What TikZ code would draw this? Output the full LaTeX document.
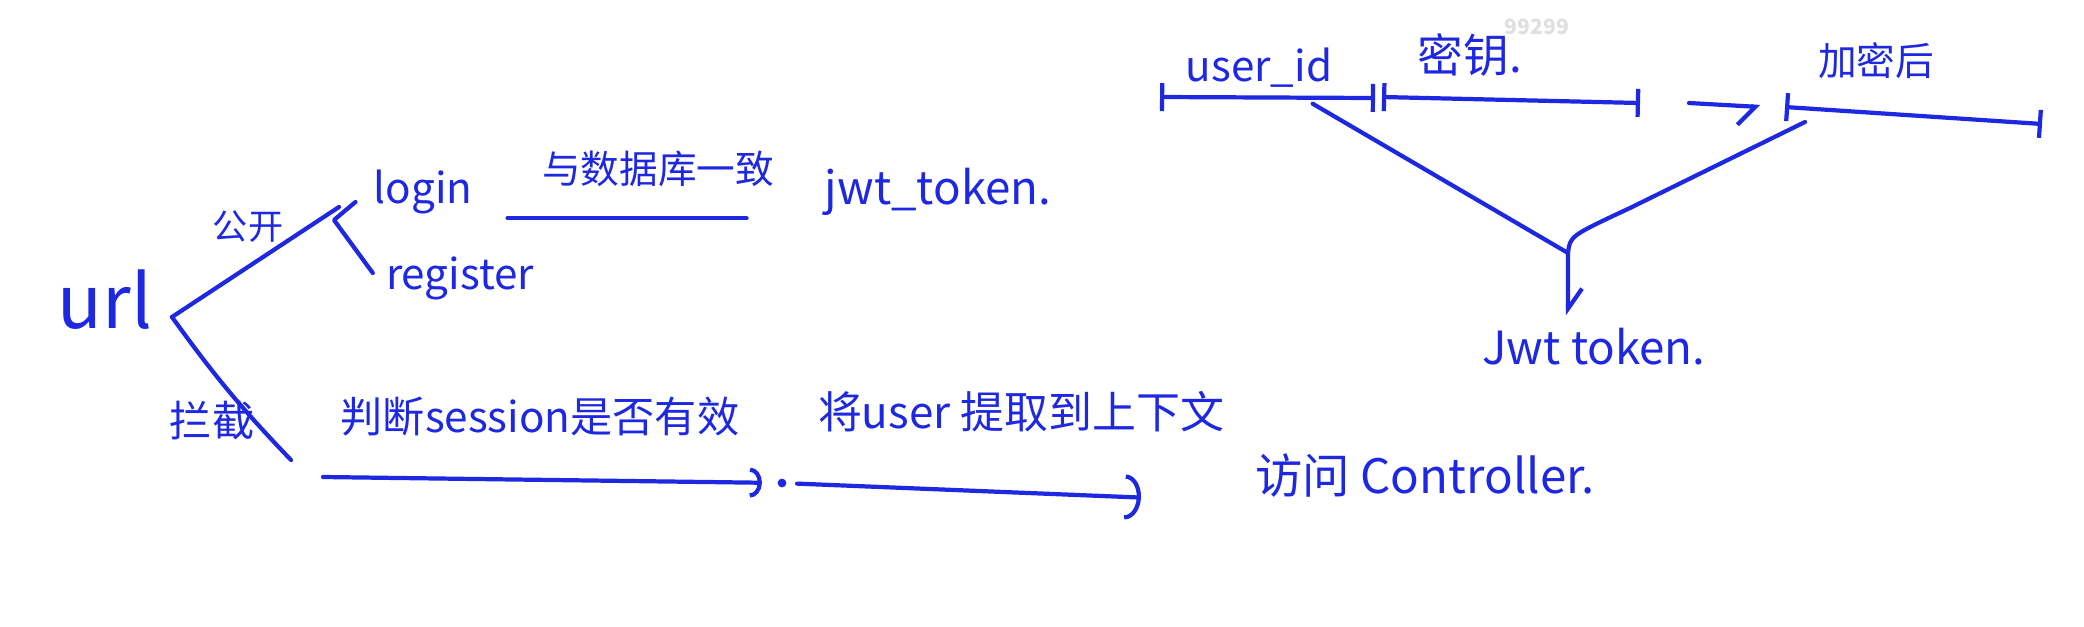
\documentclass[tikz,border=0pt]{standalone}
\usepackage{fontspec}
\setmainfont{Noto Sans CJK SC}
\usetikzlibrary{arrows.meta, calc}
\definecolor{ink}{RGB}{30,40,225}

\begin{document}
\begin{tikzpicture}[
        note/.style={text=ink, inner sep=1pt, font=\fontsize{12}{14}\selectfont},
        pen/.style={draw=ink, line width=1.2pt, line cap=round, line join=round},
        arrow/.style={pen, -{Arc Barb[length=1.2mm, width=3mm]}},
        field/.style={pen, {Bar[width=2.8mm]}-{Bar[width=2.8mm]}}
        ]
    \useasboundingbox (0,0) rectangle (20.84,-6.26);

    % url and its two branches
    \node[note, font=\fontsize{21}{24}\selectfont] (url) at (1.05,-3.00) {url};
    \coordinate (fork) at (1.72,-3.17);
    \coordinate (pub) at (3.39,-2.07);
    \coordinate (blk) at (2.91,-4.60);
    \coordinate (brk) at (3.34,-2.20);
    \node[note, font=\fontsize{10}{12}\selectfont] (open) at (2.48,-2.27) {公开};
    \node[note, font=\fontsize{12}{14}\selectfont] (intercept) at (2.12,-4.21) {拦截};
    \node[note] (login) at (4.23,-1.92) {login};
    \node[note] (register) at (4.60,-2.78) {register};
    \node[note, font=\fontsize{11}{13}\selectfont] (dbsame) at (6.58,-1.69) {与数据库一致};
    \node[note, font=\fontsize{13}{15}\selectfont] (jwt) at (9.38,-1.92) {jwt\_token.};

    \draw[pen] (fork) -- (pub);
    \draw[pen] (fork) to[bend right=4] (blk);
    \draw[pen] ([shift={(-0.14,-0.10)}]login.west) -- (brk) -- ([shift={(-0.09,0.05)}]register.west);
    \draw[pen, shorten <=3.1mm, shorten >=7.4mm] (login.south east) -- (login.south east -| jwt.west);

    % intercepted requests
    \node[note] (session) at (5.40,-4.17) {判断session是否有效};
    \node[circle, fill=ink, inner sep=0pt, minimum size=2.5pt] (dot) at (7.82,-4.83) {};
    \node[note, font=\fontsize{12.5}{15}\selectfont] (touser) at (10.21,-4.12) {将user 提取到上下文};
    \node[note, font=\fontsize{13.5}{16}\selectfont] (ctrl) at (14.25,-4.76) {访问 Controller.};

    \draw[arrow, shorten >=1.5mm] ([shift={(0.32,-0.17)}]blk) -- (dot);
    \draw[pen, shorten <=1mm, shorten >=11mm, -{Arc Barb[length=1.6mm, width=4.5mm]}] (dot) -- (ctrl.south west);

    % token layout
    \node[gray!25, font=\bfseries\fontsize{6}{7}\selectfont] (mark) at (15.37,-0.27) {99299};
    \coordinate (idL) at (11.60,-0.97);
    \coordinate (idR) at (13.75,-0.98);
    \coordinate (keyL) at (13.82,-0.97);
    \coordinate (keyR) at (16.40,-1.03);
    \coordinate (encL) at (17.85,-1.07);
    \coordinate (encR) at (20.42,-1.24);
    \coordinate (merge) at (15.68,-2.53);
    \node[note] (uid) at (12.59,-0.68) {user\_id};
    \node[note, font=\fontsize{13}{15}\selectfont] (key) at (14.70,-0.55) {密钥.};
    \node[note, font=\fontsize{11}{13}\selectfont] (enc) at (18.76,-0.61) {加密后};
    \node[note, font=\fontsize{13}{15}\selectfont] (token) at (15.94,-3.47) {Jwt token.};

    \draw[field] (idL) -- (idR);
    \draw[field] (keyL) -- (keyR);
    \draw[field] (encL) -- (encR);
    \draw[pen, -{Straight Barb[right, length=1.7mm, width=3.8mm]}] ([xshift=4.9mm]keyR) -- ([xshift=-2.5mm]encL);
    \draw[pen] ($(idL)!0.71!(idR)+(0,-0.06)$) -- (merge);
    \draw[pen, shorten >=0.9mm, -{Straight Barb[left, length=2mm, width=2.8mm]}]
        ([shift={(0.20,-0.15)}]encL) -- (16.30,-2.08) .. controls (15.70,-2.36) .. (merge) -- (merge |- token.north);
\end{tikzpicture}
\end{document}
